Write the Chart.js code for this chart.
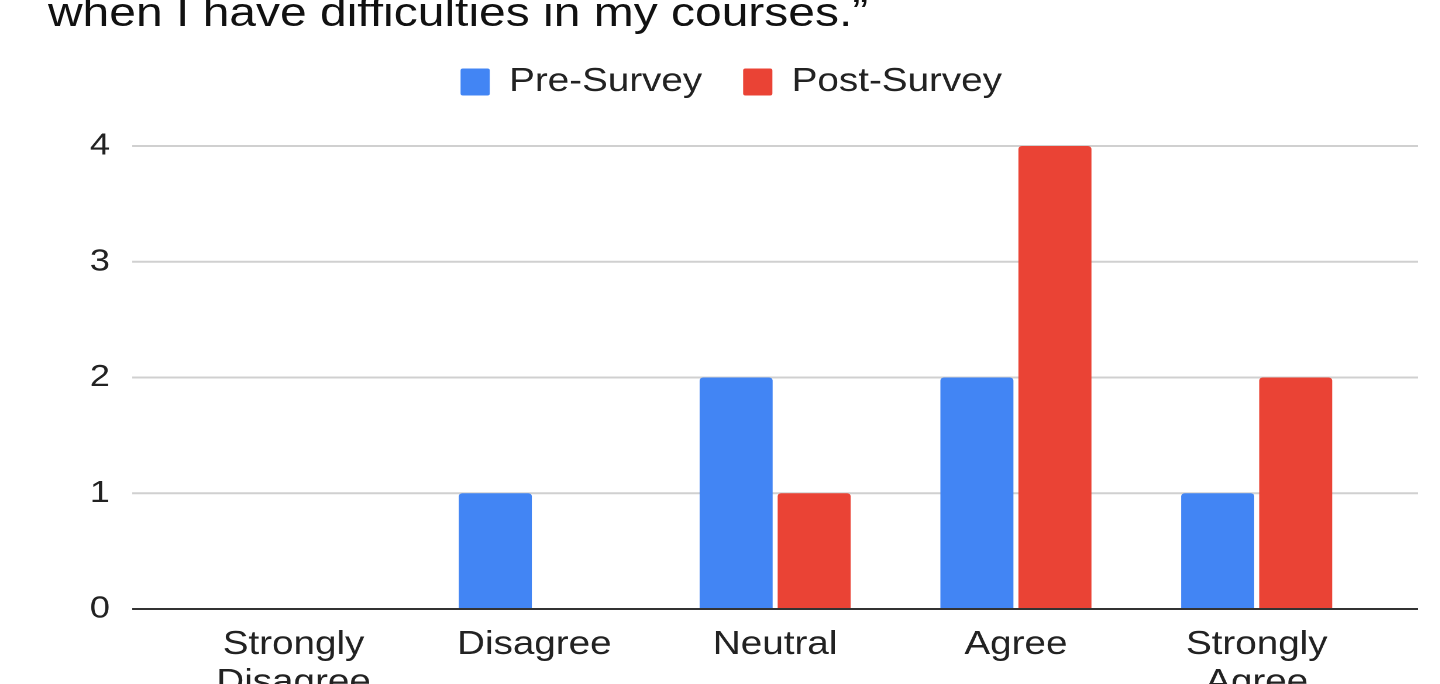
<!DOCTYPE html>
<html>
<head>
<meta charset="utf-8">
<script src="https://cdn.jsdelivr.net/npm/chart.js@4/dist/chart.umd.min.js"></script>
<style>
  html, body { margin: 0; padding: 0; background: #fff; width: 1440px; height: 684px; overflow: hidden; }
  /* the whole figure is a little wider than it is drawn, so stretch it sideways */
  #wrap { position: absolute; left: 0; top: 0; width: 1231px; height: 720px; transform: scaleX(1.17); transform-origin: 0 0; }
  #heading { position: absolute; left: 41px; top: -8px; font: 41px/41px "Liberation Sans", Arial, sans-serif; color: #111; white-space: nowrap; }
  #box { position: absolute; left: 0; top: 0; width: 1231px; height: 720px; }
</style>
</head>
<body>
<div id="wrap">
  <div id="heading">when I have difficulties in my courses.”</div>
  <div id="box"><canvas id="graph"></canvas></div>
</div>
<script>
const categories = [['Strongly', 'Disagree'], 'Disagree', 'Neutral', 'Agree', ['Strongly', 'Agree']];
const preSurvey = [0, 1, 2, 2, 1];
const postSurvey = [0, 0, 1, 4, 2];
const yMin = 0;
const yMax = 4;
const yStep = 1;

Chart.defaults.font.family = '"Liberation Sans", Arial, sans-serif';
Chart.defaults.color = '#222';

// horizontal grid lines run a bit past the bars on both sides
const gridLines = {
    id: 'gridLines',
    beforeDatasetsDraw(chart) {
        const {ctx, chartArea, scales} = chart;
        ctx.save();
        ctx.lineWidth = 2;
        ctx.strokeStyle = '#d0d0d0';
        scales.y.ticks.forEach(t => {
            if (t.value === 0) return;
            const y = scales.y.getPixelForValue(t.value);
            ctx.beginPath();
            ctx.moveTo(chartArea.left - 35, y);
            ctx.lineTo(chartArea.right + 35, y);
            ctx.stroke();
        });
        ctx.restore();
    },
    afterDatasetsDraw(chart) {
        const {ctx, chartArea, scales} = chart;
        const y = scales.y.getPixelForValue(0);
        ctx.save();
        ctx.lineWidth = 2;
        ctx.strokeStyle = '#333333';
        ctx.beginPath();
        ctx.moveTo(chartArea.left - 35, y);
        ctx.lineTo(chartArea.right + 35, y);
        ctx.stroke();
        ctx.restore();
    }
};

const ctx = document.getElementById('graph').getContext('2d');
const graph = new Chart(ctx, {
    type: 'bar',
    data: {
        labels: categories,
        datasets: [{
            label: 'Pre-Survey',
            data: preSurvey,
            backgroundColor: '#4285f4',
            borderRadius: 3,
            borderSkipped: 'start'
        }, {
            label: 'Post-Survey',
            data: postSurvey,
            backgroundColor: '#ea4335',
            borderRadius: 3,
            borderSkipped: 'start'
        }]
    },
    options: {
        responsive: true,
        maintainAspectRatio: false,
        animation: false,
        devicePixelRatio: 2,
        layout: {
            padding: { top: 30.5, left: 73, right: 54, bottom: 1.1 }
        },
        datasets: {
            bar: { categoryPercentage: 0.648, barPercentage: 0.936 }
        },
        scales: {
            x: {
                grid: { display: false, drawTicks: false },
                border: { display: false },
                ticks: {
                    padding: 17,
                    color: '#222',
                    maxRotation: 0,
                    autoSkip: false,
                    font: { size: 33, lineHeight: 1.15 }
                }
            },
            // empty strip that keeps some room between the legend and the plot
            xGap: {
                type: 'category',
                position: 'top',
                grid: { display: false, drawTicks: false },
                border: { display: false },
                ticks: { display: false },
                afterFit(scale) {
                    scale.height = 37.5;
                }
            },
            y: {
                min: yMin,
                max: yMax,
                grid: { display: false, drawTicks: false },
                border: { display: false },
                ticks: {
                    stepSize: yStep,
                    padding: 54,
                    color: '#222',
                    font: { size: 31 }
                },
                afterFit(scale) {
                    scale.width = 75;
                }
            }
        },
        plugins: {
            legend: {
                position: 'top',
                labels: {
                    boxWidth: 25,
                    boxHeight: 27,
                    padding: 35,
                    color: '#222',
                    useBorderRadius: true,
                    borderRadius: 2,
                    font: { size: 33 }
                }
            },
            tooltip: { enabled: false }
        }
    },
    plugins: [gridLines]
});
</script>
</body>
</html>
